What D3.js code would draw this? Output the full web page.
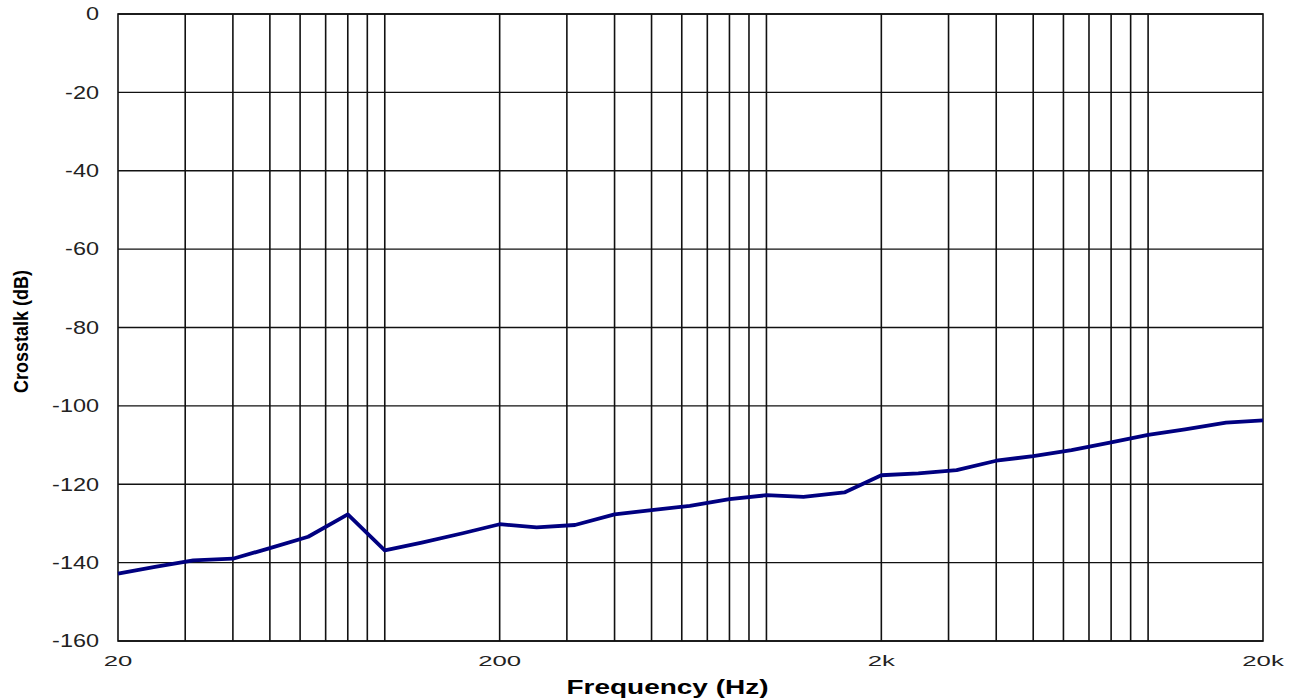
<!DOCTYPE html>
<html>
<head>
<meta charset="utf-8">
<script src="https://cdn.jsdelivr.net/npm/d3@7"></script>
<style>
  html, body { margin: 0; padding: 0; background: #fff; }
  svg { display: block; }
</style>
</head>
<body>
<svg id="chart" width="1295" height="700"></svg>
<script>
// ---- data ----
const freqs = [20, 25, 31.5, 40, 50, 63, 80, 100, 125, 160, 200, 250, 315, 400, 500, 630, 800,
  1000, 1250, 1600, 2000, 2500, 3150, 4000, 5000, 6300, 8000, 10000, 12500, 16000, 20000];
const crosstalk = [-142.8, -141.1, -139.4, -139.0, -136.3, -133.4, -127.7, -136.9, -134.9, -132.5,
  -130.2, -131.0, -130.4, -127.7, -126.6, -125.5, -123.8, -122.8, -123.2, -122.1,
  -117.7, -117.2, -116.4, -114.0, -112.8, -111.3, -109.3, -107.4, -106.0, -104.3, -103.7];
const xGrid = [30, 40, 50, 60, 70, 80, 90, 100, 200, 300, 400, 500, 600, 700, 800, 900, 1000,
  2000, 3000, 4000, 5000, 6000, 7000, 8000, 9000, 10000];
const xTickValues = [20, 200, 2000, 20000];
const xTickLabels = ["20", "200", "2k", "20k"];
const yTickValues = [0, -20, -40, -60, -80, -100, -120, -140, -160];
const xTitle = "Frequency (Hz)";
const yTitle = "Crosstalk (dB)";

// ---- layout ----
const svg = d3.select("#chart");
const L = 118, R = 1263, T = 14, B = 641;
const x = d3.scaleLog().domain([20, 20000]).range([L, R]);
const y = d3.scaleLinear().domain([-160, 0]).range([B, T]);

// gridlines
const g = svg.append("g");
g.selectAll("line.vg").data(xGrid).enter().append("line")
  .attr("x1", d => x(d)).attr("x2", d => x(d)).attr("y1", T).attr("y2", B)
  .attr("stroke", "#111").attr("stroke-width", 1.6);
g.selectAll("line.hg").data(yTickValues).enter().append("line")
  .attr("x1", L).attr("x2", R).attr("y1", d => y(d)).attr("y2", d => y(d))
  .attr("stroke", "#111").attr("stroke-width", 1.4);
g.append("rect").attr("x", L).attr("y", T).attr("width", R - L).attr("height", B - T)
  .attr("fill", "none").attr("stroke", "#111").attr("stroke-width", 1.6);

// data line
const line = d3.line().x((d, i) => x(freqs[i])).y(d => y(d));
svg.append("path").datum(crosstalk)
  .attr("d", line).attr("fill", "none")
  .attr("stroke", "#000080").attr("stroke-width", 3.8)
  .attr("stroke-linejoin", "round");

// y tick labels (stretched horizontally)
svg.selectAll("g.yl").data(yTickValues).enter().append("g")
  .attr("transform", d => `translate(99,${y(d)}) scale(1.34,1)`)
  .append("text")
  .attr("text-anchor", "end").attr("dy", "0.36em")
  .attr("font-family", "Liberation Sans, Arial, sans-serif").attr("font-size", 17.5)
  .attr("fill", "#222")
  .text(d => d);

// x tick labels
svg.selectAll("g.xl").data(xTickValues).enter().append("g")
  .attr("transform", d => `translate(${x(d)},661) scale(1.75,1)`)
  .append("text")
  .attr("text-anchor", "middle").attr("dy", "0.36em")
  .attr("font-family", "Liberation Sans, Arial, sans-serif").attr("font-size", 14.7)
  .attr("fill", "#222")
  .text((d, i) => xTickLabels[i]);

// axis titles
svg.append("text")
  .attr("x", 566.5).attr("y", 694)
  .attr("textLength", 202).attr("lengthAdjust", "spacingAndGlyphs")
  .attr("font-family", "Liberation Sans, Arial, sans-serif")
  .attr("font-weight", "bold").attr("font-size", 20)
  .attr("fill", "#000")
  .text(xTitle);

svg.append("text")
  .attr("transform", "translate(28,331.5) rotate(-90)")
  .attr("text-anchor", "middle")
  .attr("textLength", 123).attr("lengthAdjust", "spacingAndGlyphs")
  .attr("font-family", "Liberation Sans, Arial, sans-serif")
  .attr("font-weight", "bold").attr("font-size", 20)
  .attr("fill", "#000")
  .text(yTitle);
</script>
</body>
</html>
